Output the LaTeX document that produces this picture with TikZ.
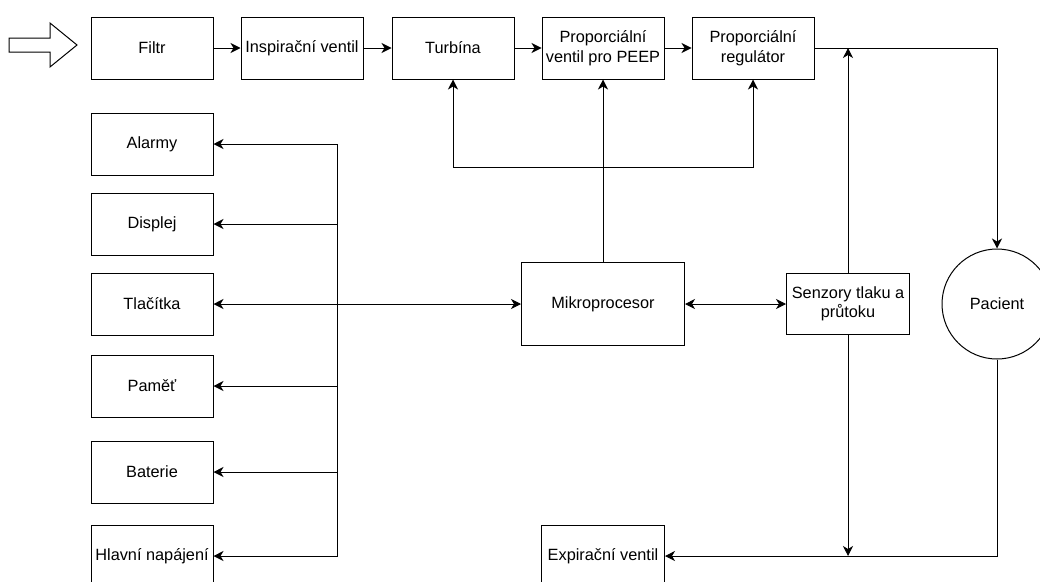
\documentclass[tikz,border=0pt]{standalone}
\usepackage{fontspec}
\setmainfont{Liberation Sans}
\usetikzlibrary{arrows.meta}
\tikzset{
  tip/.tip={Stealth[length=10pt,width=10pt,inset=3pt]},
  box/.style={draw, line width=1pt, minimum width=122pt, minimum height=62pt, align=center, inner sep=0pt, font=\fontsize{16.3}{19.5}\selectfont},
  arr/.style={line width=1pt, -tip},
  darr/.style={line width=1pt, tip-tip},
}
\begin{document}
\begin{tikzpicture}[x=1pt,y=-1pt]
\useasboundingbox (0,0) rectangle (1040,581);
% hollow input arrow
\draw[line width=1pt] (9,38) -- (50,38) -- (50,23) -- (77,45) -- (50,67) -- (50,52) -- (9,52) -- cycle;
% top row
\node[box] (fil) at (152,48) {Filtr};
\node[box] (ins) at (302,48) {Inspirační ventil};
\node[box] (tur) at (453,48) {Turbína};
\node[box] (peep) at (603,48) {Proporciální\\ventil pro PEEP};
\node[box] (reg) at (753,48) {Proporciální\\regulátor};
% left column
\node[box] (ala) at (152,144) {Alarmy};
\node[box] (dis) at (152,224) {Displej};
\node[box] (tla) at (152,304) {Tlačítka};
\node[box] (pam) at (152,386) {Paměť};
\node[box] (bat) at (152,472) {Baterie};
\node[box] (hla) at (152,556) {Hlavní napájení};
% middle
\node[box, minimum width=163pt, minimum height=83pt] (mik) at (603,304) {Mikroprocesor};
\node[box, minimum width=123pt, minimum height=61pt] (sen) at (848,304) {Senzory tlaku a\\průtoku};
\node[box, minimum width=123pt] (exp) at (603,556) {Expirační ventil};
\node[draw, line width=1pt, circle, minimum size=110pt, inner sep=0pt, font=\fontsize{16.3}{19.5}\selectfont] (pac) at (997,304) {Pacient};
% top chain
\draw[arr] (fil) -- (ins);
\draw[arr] (ins) -- (tur);
\draw[arr] (tur) -- (peep);
\draw[arr] (peep) -- (reg);
\draw[arr] (reg.east) -| (pac.north);
\draw[arr] (sen.north) -- (sen.north |- reg.east);
% feedback from microprocessor
\coordinate (fb) at (603,167);
\draw[arr] (mik.north) -- (peep.south);
\draw[arr] (fb) -| (tur.south);
\draw[arr] (fb) -| (reg.south);
% mikro - senzory
\draw[darr] (mik.east) -- (sen.west);
\draw[darr] (tla.east) -- (mik.west);
% bus
\coordinate (bus) at (337,304);
\draw[arr] (bus) |- (ala.east);
\draw[arr] (bus) |- (dis.east);
\draw[arr] (bus) |- (pam.east);
\draw[arr] (bus) |- (bat.east);
\draw[arr] (bus) |- (hla.east);
% expiration
\draw[arr] (pac.south) |- (exp.east);
\draw[arr] (sen.south) -- (sen.south |- exp.east);
\end{tikzpicture}
\end{document}
